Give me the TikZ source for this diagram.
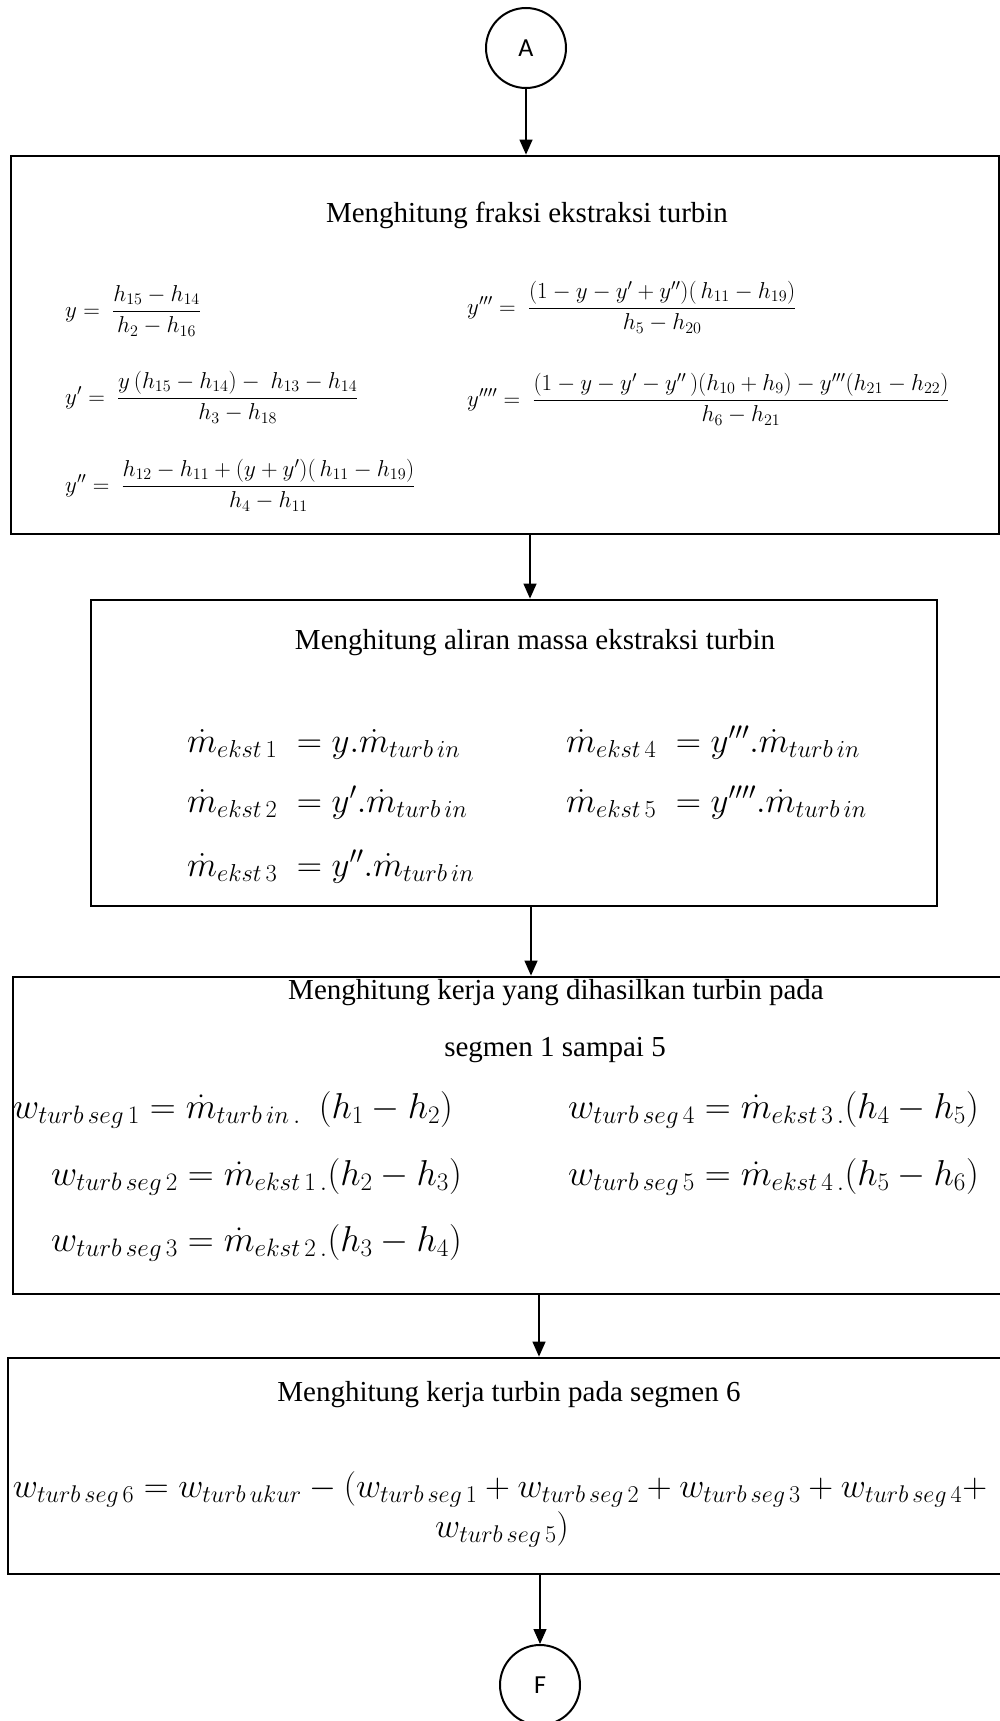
\RequirePackage{fix-cm}
\documentclass[tikz,border=0pt]{standalone}
\usepackage{amsmath}
\usepackage[no-math]{fontspec}
\setmainfont{Liberation Serif}
\newfontfamily\circfont{Carlito}
\usetikzlibrary{arrows.meta}
\begin{document}
\begin{tikzpicture}[x=1pt,y=-1pt,
  box/.style={draw, line width=2.8pt, rectangle, inner sep=0pt},
  conn/.style={draw, circle, line width=2pt, minimum size=80pt, inner sep=0pt, font=\circfont\fontsize{26}{30}\selectfont},
  ttl/.style={inner sep=0pt, font=\fontsize{29}{34}\selectfont},
  eqs/.style={inner sep=0pt, anchor=base west, font=\fontsize{23}{28}\selectfont},
  eqb/.style={inner sep=0pt, anchor=base west, font=\fontsize{35}{40}\selectfont},
  eqw/.style={inner sep=0pt, anchor=base west, font=\fontsize{36}{40}\selectfont},
  eqc/.style={inner sep=0pt, anchor=base, font=\fontsize{34.5}{40}\selectfont},
  arr/.style={line width=1.3pt, -{Triangle[width=13pt,length=15pt]}}]
\useasboundingbox (0,0) rectangle (1000,1721);

% connectors (circles)
\node[conn] (A) at (526,48) {A};
\node[conn] (F) at (540,1685) {F};

% boxes
\node[box, minimum width=988pt, minimum height=378pt] (b1) at (505,345) {};
\node[box, minimum width=846pt, minimum height=306pt] (b2) at (514,753) {};
\node[box, minimum width=991pt, minimum height=317pt] (b3) at (508.5,1135.5) {};
\node[box, minimum width=996pt, minimum height=216pt] (b4) at (506,1466) {};

% box 1
\node[ttl] (t1) at (527,215) {Menghitung fraksi ekstraksi turbin};
\node[eqs] (e1) at (65,317) {$y =\ \dfrac{h_{15}-h_{14}}{h_2-h_{16}}$};
\node[eqs] (e2) at (65,404) {$y' =\ \dfrac{y\,(h_{15}-h_{14})-\ h_{13}-h_{14}}{h_3-h_{18}}$};
\node[eqs] (e3) at (65,492) {$y'' =\ \dfrac{h_{12}-h_{11}+(y+y')(\,h_{11}-h_{19})}{h_4-h_{11}}$};
\node[eqs] (e4) at (467,314) {$y''' =\ \dfrac{(1-y-y'+y'')(\,h_{11}-h_{19})}{h_5-h_{20}}$};
\node[eqs] (e5) at (467,406) {$y'''' =\ \dfrac{(1-y-y'-y''\,)(h_{10}+h_{9})-y'''(h_{21}-h_{22})}{h_6-h_{21}}$};

% box 2
\node[ttl] (t2) at (535,643) {Menghitung aliran massa ekstraksi turbin};
\node[eqb] (m1) at (187,752) {$\dot m_{ekst\,1}\;= y.\dot m_{turb\,in}$};
\node[eqb] (m2) at (187,812) {$\dot m_{ekst\,2}\;= y'.\dot m_{turb\,in}$};
\node[eqb] (m3) at (187,876) {$\dot m_{ekst\,3}\;= y''.\dot m_{turb\,in}$};
\node[eqb] (m4) at (566,752) {$\dot m_{ekst\,4}\;= y'''.\dot m_{turb\,in}$};
\node[eqb] (m5) at (566,812) {$\dot m_{ekst\,5}\;= y''''.\dot m_{turb\,in}$};

% box 3
\node[ttl] (t3a) at (556,993) {Menghitung kerja yang dihasilkan turbin pada};
\node[ttl] (t3b) at (555,1050) {segmen 1 sampai 5};
\node[eqw] (w1) at (13,1118) {$w_{turb\,seg\,1} = \dot m_{turb\,in\,.}\ \ (h_1-h_2)$};
\node[eqw] (w2) at (51,1185) {$w_{turb\,seg\,2} = \dot m_{ekst\,1\,.}(h_2-h_3)$};
\node[eqw] (w3) at (51,1251) {$w_{turb\,seg\,3} = \dot m_{ekst\,2\,.}(h_3-h_4)$};
\node[eqw] (w4) at (568,1118) {$w_{turb\,seg\,4} = \dot m_{ekst\,3\,.}(h_4-h_5)$};
\node[eqw] (w5) at (568,1185) {$w_{turb\,seg\,5} = \dot m_{ekst\,4\,.}(h_5-h_6)$};

% box 4
\node[ttl] (t4) at (509,1395) {Menghitung kerja turbin pada segmen 6};
\node[eqc] (z1) at (500,1497) {$w_{turb\,seg\,6} = w_{turb\,ukur} - (w_{turb\,seg\,1} + w_{turb\,seg\,2} + w_{turb\,seg\,3} + w_{turb\,seg\,4} +$};
\node[eqc] (z2) at (502,1537) {$w_{turb\,seg\,5})$};

% arrows
\draw[arr] (A.south) -- (A.south |- b1.north);
\draw[arr] ([xshift=25pt]b1.south) -- ([xshift=25pt]b1.south |- b2.north);
\draw[arr] ([xshift=17pt]b2.south) -- ([xshift=17pt]b2.south |- b3.north);
\draw[arr] ([xshift=30.5pt]b3.south) -- ([xshift=30.5pt]b3.south |- b4.north);
\draw[arr] (F.north |- b4.south) -- (F.north);
\end{tikzpicture}
\end{document}
